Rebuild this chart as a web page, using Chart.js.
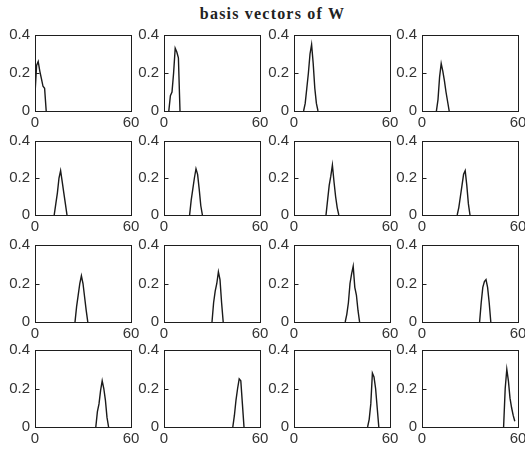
<!DOCTYPE html>
<html>
<head>
<meta charset="utf-8">
<script src="https://cdn.jsdelivr.net/npm/chart.js@4.4.1/dist/chart.umd.min.js"></script>
<style>
body { margin: 0; background: #fff; width: 525px; height: 449px; overflow: hidden; position: relative; }
#title { position: absolute; left: 0; width: 545px; top: 5px; text-align: center;
         font: bold 16px "Liberation Serif", "Times New Roman", serif; letter-spacing: 1.2px; color: #222; }
canvas { position: absolute; }
</style>
</head>
<body>
<div id="title">basis vectors of W</div>
<div id="plots"></div>
<script>
// each basis vector: first sample index + values
const xStart = [0, 3, 6, 9, 12, 16, 20, 22, 25, 30, 32, 36, 38, 43, 46, 51];
const w1 = [0.09, 0.24, 0.26, 0.21, 0.17, 0.13, 0.12, 0];
const w2 = [0, 0.08, 0.1, 0.2, 0.33, 0.31, 0.28, 0];
const w3 = [0, 0.04, 0.12, 0.2, 0.3, 0.35, 0.25, 0.12, 0.04, 0];
const w4 = [0, 0.06, 0.18, 0.25, 0.21, 0.16, 0.1, 0.05, 0];
const w5 = [0, 0.06, 0.12, 0.2, 0.24, 0.18, 0.12, 0.06, 0];
const w6 = [0, 0.08, 0.14, 0.2, 0.25, 0.22, 0.14, 0.05, 0];
const w7 = [0, 0.08, 0.16, 0.21, 0.27, 0.18, 0.1, 0.04, 0];
const w8 = [0, 0.04, 0.1, 0.16, 0.22, 0.24, 0.16, 0.06, 0];
const w9 = [0, 0.08, 0.14, 0.2, 0.24, 0.2, 0.13, 0.06, 0];
const w10 = [0, 0.1, 0.16, 0.2, 0.26, 0.22, 0.1, 0];
const w11 = [0, 0.04, 0.1, 0.2, 0.25, 0.29, 0.18, 0.14, 0.06, 0];
const w12 = [0, 0.1, 0.18, 0.21, 0.22, 0.18, 0.1, 0];
const w13 = [0, 0.08, 0.12, 0.19, 0.24, 0.2, 0.14, 0.05, 0];
const w14 = [0, 0.06, 0.14, 0.2, 0.25, 0.24, 0.12, 0];
const w15 = [0, 0.04, 0.12, 0.28, 0.26, 0.2, 0.1, 0];
const w16 = [0, 0.2, 0.3, 0.24, 0.15, 0.1, 0.06, 0.03];
const basis = [w1, w2, w3, w4, w5, w6, w7, w8, w9, w10, w11, w12, w13, w14, w15, w16];

const xTicks = [0, 60];
const yTicks = [0, 0.2, 0.4];

// subplot placement (axes box in page pixels)
const colLeft = [35, 164, 294, 422];
const rowTop = [33, 139, 243, 348];
const rowHeight = [78, 76, 79, 79];
const AX_W = 96, PAD_L = 40, PAD_T = 12, PAD_R = 14, PAD_B = 26;

const FONT = { family: '"Liberation Sans", Arial, sans-serif', size: 15 };

const boxPlugin = {
    id: 'box',
    afterDraw(chart) {
        const { ctx, chartArea: a, scales } = chart;
        const l = Math.round(a.left) + 0.5, t = Math.round(a.top) + 0.5;
        ctx.save();
        ctx.strokeStyle = '#1e1e1e';
        ctx.lineWidth = 1;
        ctx.strokeRect(l, t, Math.round(a.width), Math.round(a.height));
        ctx.beginPath();
        yTicks.forEach(v => {
            const y = Math.round(scales.y.getPixelForValue(v)) + 0.5;
            ctx.moveTo(l, y);
            ctx.lineTo(l + 4, y);
        });
        ctx.stroke();
        ctx.restore();
    }
};

function makePlot(idx) {
    const row = Math.floor(idx / 4), col = idx % 4;
    const h = rowHeight[row];
    const canvas = document.createElement('canvas');
    const cw = PAD_L + AX_W + PAD_R, ch = PAD_T + h + PAD_B;
    canvas.width = cw;
    canvas.height = ch;
    canvas.style.left = (colLeft[col] - PAD_L) + 'px';
    canvas.style.top = (rowTop[row] - PAD_T) + 'px';
    canvas.style.width = cw + 'px';
    canvas.style.height = ch + 'px';
    document.getElementById('plots').appendChild(canvas);

    const pts = basis[idx].map((v, i) => ({ x: xStart[idx] + i, y: v }));

    new Chart(canvas, {
        type: 'line',
        data: {
            datasets: [{
                data: pts,
                borderColor: '#1a1a1a',
                borderWidth: 1.4,
                pointRadius: 0,
                tension: 0,
                fill: false
            }]
        },
        options: {
            responsive: false,
            animation: false,
            events: [],
            layout: { padding: { left: 0, top: PAD_T, right: PAD_R, bottom: 0 } },
            plugins: { legend: { display: false }, tooltip: { enabled: false }, title: { display: false } },
            scales: {
                x: {
                    type: 'linear',
                    min: 0,
                    max: 60,
                    grid: { display: false, drawTicks: false, tickLength: 0 },
                    border: { display: false },
                    afterBuildTicks: s => { s.ticks = xTicks.map(v => ({ value: v })); },
                    afterFit: s => { s.height = PAD_B; },
                    ticks: { color: '#333', font: FONT, padding: 3, maxRotation: 0, autoSkip: false }
                },
                y: {
                    min: 0,
                    max: 0.4,
                    grid: { display: false, drawTicks: false, tickLength: 0 },
                    border: { display: false },
                    afterBuildTicks: s => { s.ticks = yTicks.map(v => ({ value: v })); },
                    afterFit: s => { s.width = PAD_L; },
                    ticks: {
                        color: '#333', font: FONT, padding: 5,
                        callback: v => (v === 0 ? '0' : v.toFixed(1))
                    }
                }
            }
        },
        plugins: [boxPlugin]
    });
}

for (let i = 0; i < basis.length; i++) makePlot(i);
</script>
</body>
</html>
